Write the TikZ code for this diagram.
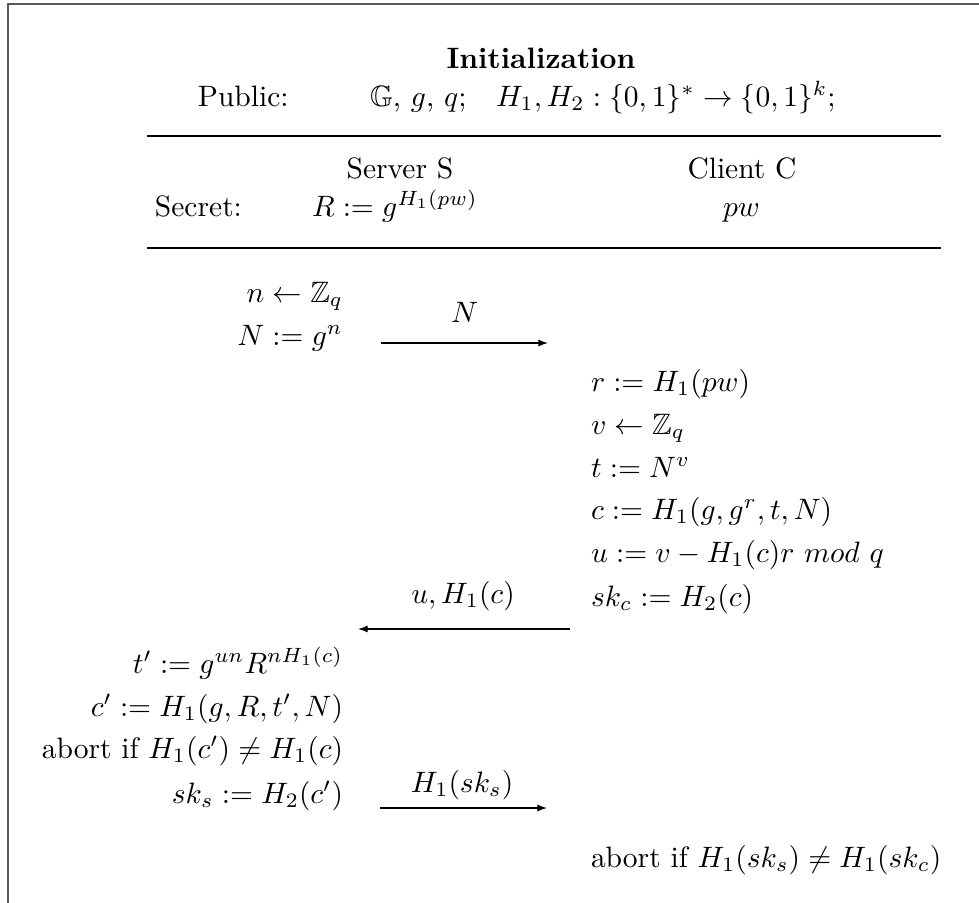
\documentclass[tikz,border=0pt]{standalone}
\usepackage{amssymb}
\usetikzlibrary{arrows.meta}
\begin{document}
\begin{tikzpicture}[x=0.339pt,y=-0.339pt,
  every node/.style={inner sep=0pt, outer sep=0pt},
  srv/.style={anchor=mid east},
  cli/.style={anchor=mid west},
  lbl/.style={anchor=mid},
  msg/.style={line width=0.4pt,-{Latex[length=3.3pt,width=2.4pt]}},
  hrule/.style={line width=0.4pt}]
\useasboundingbox (0,0) rectangle (979,903);
\draw[black!65, line width=0.6pt] (8,4) rectangle (1100,1000);
% header
\node[lbl, font=\bfseries] (init) at (541,62) {Initialization};
\node[cli] (pub) at (198,100) {Public:};
\node[cli] (pubv) at (370,100) {$\mathbb{G}$, $g$, $q$;\quad $H_1, H_2: \{0,1\}^* \rightarrow \{0,1\}^k$;};
\coordinate (l1a) at (147,136);
\coordinate (l1b) at (941,136);
\draw[hrule] (l1a) -- (l1b);
\node[lbl] (srvS) at (400,172) {Server S};
\node[lbl] (cliC) at (742,172) {Client C};
\node[cli] (sec) at (155,210) {Secret:};
\node[cli] (secR) at (312,210) {$R := g^{H_1(pw)}$};
\node[cli] (secpw) at (723,210) {$pw$};
\coordinate (l2a) at (147,248);
\coordinate (l2b) at (941,248);
\draw[hrule] (l2a) -- (l2b);
% server first
\node[srv] (s1) at (343,296) {$n \leftarrow \mathbb{Z}_q$};
\node[srv] (s2) at (343,339) {$N := g^n$};
\coordinate (a1s) at (381,343);
\coordinate (a1e) at (548,343);
\draw[msg] (a1s) -- node[lbl, above=7pt] (a1l) {$N$} (a1e);
% client
\node[cli] (c1) at (591,385) {$r := H_1(pw)$};
\node[cli] (c2) at (591,428) {$v \leftarrow \mathbb{Z}_q$};
\node[cli] (c3) at (591,471) {$t := N^v$};
\node[cli] (c4) at (591,513) {$c := H_1(g, g^r, t, N)$};
\node[cli] (c5) at (591,556) {$u := v - H_1(c)r\ mod\ q$};
\node[cli] (c6) at (591,600) {$sk_c := H_2(c)$};
\coordinate (a2s) at (570,629);
\coordinate (a2e) at (358,629);
\draw[msg] (a2s) -- (a2e);
\node[lbl] (a2l) at (463,597) {$u, H_1(c)$};
% server second
\node[srv] (s3) at (343,667) {$t' := g^{un}R^{nH_1(c)}$};
\node[srv] (s4) at (343,710) {$c' := H_1(g, R, t', N)$};
\node[srv] (s5) at (343,752) {abort if $H_1(c') \neq H_1(c)$};
\node[srv] (s6) at (343,797) {$sk_s := H_2(c')$};
\coordinate (a3s) at (380,808);
\coordinate (a3e) at (547,808);
\draw[msg] (a3s) -- (a3e);
\node[lbl] (a3l) at (462,786) {$H_1(sk_s)$};
\node[cli] (c7) at (591,861) {abort if $H_1(sk_s) \neq H_1(sk_c)$};
\end{tikzpicture}
\end{document}
